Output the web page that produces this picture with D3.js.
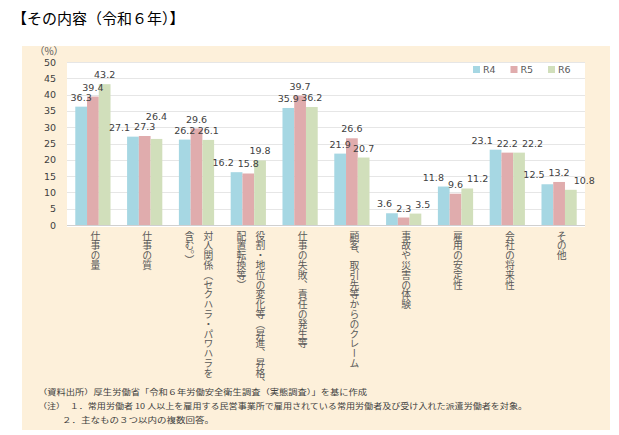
<!DOCTYPE html>
<html>
<head>
<meta charset="utf-8">
<script src="https://cdn.jsdelivr.net/npm/d3@7/dist/d3.min.js"></script>
<style>
  body { margin: 0; background: #fff; }
  #wrap { position: relative; width: 619px; height: 435px; }
  svg { display: block; position: absolute; left: 0; top: 0; }
  .cat {
    position: absolute;
    writing-mode: vertical-rl;
    font-family: 'Noto Sans CJK JP', sans-serif;
    font-size: 9.8px;
    line-height: 19px;
    color: #595959;
    white-space: nowrap;
    transform: translateX(-50%);
  }
</style>
</head>
<body>
<div id="wrap">
<svg id="chart" width="619" height="435"></svg>
</div>
<script>

const title = "【その内容（令和６年）】"

const categories = [
	["仕事の量"],
	["仕事の質"],
	["対人関係（セクハラ・パワハラを", "含む。）"],
	["役割・地位の変化等（昇進、昇格、", "配置転換等）"],
	["仕事の失敗、責任の発生等"],
	["顧客、取引先等からのクレーム"],
	["事故や災害の体験"],
	["雇用の安定性"],
	["会社の将来性"],
	["その他"]
]

const seriesNames = ["R4", "R5", "R6"]
const r4 = [36.3, 27.1, 26.2, 16.2, 35.9, 21.9, 3.6, 11.8, 23.1, 12.5]
const r5 = [39.4, 27.3, 29.6, 15.8, 39.7, 26.6, 2.3, 9.6, 22.2, 13.2]
const r6 = [43.2, 26.4, 26.1, 19.8, 36.2, 20.7, 3.5, 11.2, 22.2, 10.8]

const yTicks = [0, 5, 10, 15, 20, 25, 30, 35, 40, 45, 50]
const yUnit = "（%）"

const notes = [
	"（資料出所）厚生労働省「令和６年労働安全衛生調査（実態調査）」を基に作成",
	"（注）　１．常用労働者 10 人以上を雇用する民営事業所で雇用されている常用労働者及び受け入れた派遣労働者を対象。",
	"２．主なもの３つ以内の複数回答。"
]

const colors = ["#a6d7e3", "#e0acad", "#d1dfbb"]
const numFont = "'DejaVu Sans', sans-serif"
const jpFont = "'Noto Sans CJK JP', sans-serif"

const svg = d3.select("#chart")
const wrap = d3.select("#wrap")

svg.append("text")
	.attr("x", 12).attr("y", 24)
	.attr("font-family", jpFont)
	.attr("font-size", 15)
	.attr("fill", "#000")
	.text(title)

// beige panel and white plot area
svg.append("rect")
	.attr("x", 22).attr("y", 46)
	.attr("width", 588).attr("height", 384)
	.attr("fill", "#fdf0da")

const plot = {left: 67, right: 585, top: 62, bottom: 225}

svg.append("rect")
	.attr("x", plot.left).attr("y", plot.top)
	.attr("width", plot.right - plot.left).attr("height", plot.bottom - plot.top + 2)
	.attr("fill", "#fff")

const series = [r4, r5, r6]
const idx = categories.map((c, i) => i)

const x = d3.scaleBand()
	.domain(idx)
	.range([plot.left, plot.right])
	.paddingInner(0.32)
	.paddingOuter(0.16)

const xSub = d3.scaleBand()
	.domain(seriesNames)
	.range([0, x.bandwidth()])

const y = d3.scaleLinear()
	.domain([0, 50])
	.range([plot.bottom, plot.top])

svg.append("g")
	.selectAll("line")
	.data(yTicks)
	.enter().append("line")
		.attr("x1", plot.left).attr("x2", plot.right)
		.attr("y1", (d) => Math.round(y(d)) + 0.5)
		.attr("y2", (d) => Math.round(y(d)) + 0.5)
		.attr("stroke", (d) => d === 0 ? "#d0d0d0" : "#e6e6e6")
		.attr("stroke-width", 1)

const yAxis = svg.append("g")
	.attr("transform", "translate(" + (plot.left - 6) + ",0)")
	.call(d3.axisLeft(y).tickValues(yTicks).tickSize(0).tickPadding(5))
yAxis.select(".domain").remove()
yAxis.selectAll("text")
	.attr("font-family", numFont)
	.attr("font-size", 9.5)
	.attr("fill", "#404040")

svg.append("text")
	.attr("x", 49).attr("y", 55)
	.attr("text-anchor", "middle")
	.attr("font-family", jpFont)
	.attr("font-size", 10)
	.attr("fill", "#595959")
	.text(yUnit)

// bars
const groups = svg.append("g")
	.selectAll("g")
	.data(idx)
	.enter().append("g")
		.attr("transform", (i) => "translate(" + x(i) + ",0)")

groups.selectAll("rect")
	.data((i) => series.map((s, k) => ({name: seriesNames[k], value: s[i], k: k})))
	.enter().append("rect")
		.attr("x", (d) => xSub(d.name))
		.attr("y", (d) => y(d.value))
		.attr("width", xSub.bandwidth())
		.attr("height", (d) => y(0) - y(d.value))
		.attr("fill", (d) => colors[d.k])

// value labels: start above each bar, then nudge the side ones away from the middle one
const labelLayer = svg.append("g")
const labels = []
idx.forEach((i) => {
	series.forEach((s, k) => {
		const t = labelLayer.append("text")
			.attr("text-anchor", "middle")
			.attr("font-family", numFont)
			.attr("font-size", 9.5)
			.attr("fill", "#404040")
			.text(s[i].toFixed(1))
		labels.push({
			node: t, g: i, k: k,
			cx: x(i) + xSub(seriesNames[k]) + xSub.bandwidth() / 2,
			y: y(s[i]) - 6,
			w: t.node().getComputedTextLength() + 1
		})
	})
})

const lineH = 9.5
const gap = 3
function collides(a, b) {
	return Math.abs(a.y - b.y) < lineH && Math.abs(a.cx - b.cx) < (a.w + b.w) / 2 + 0.5
}
function clear(l) {
	return labels.every((o) => o === l || !collides(l, o))
}

labels.filter((l) => l.k !== 1).forEach((l) => {
	if (clear(l)) return
	const mid = labels.find((o) => o.g === l.g && o.k === 1)
	const dir = l.k === 0 ? -1 : 1
	const start = {cx: l.cx, y: l.y}
	const tries = [
		{cx: mid.cx + dir * (mid.w / 2 + l.w / 2 + gap), y: start.y},
		{cx: start.cx, y: mid.y - lineH - 0.5},
		{cx: start.cx, y: mid.y + lineH + 0.5}
	]
	for (const c of tries) {
		l.cx = c.cx
		l.y = c.y
		if (clear(l)) return
	}
	l.cx = start.cx
	l.y = start.y
})

labels.forEach((l) => l.node.attr("x", l.cx).attr("y", l.y))

// legend
const legend = svg.append("g")
	.selectAll("g")
	.data(seriesNames)
	.enter().append("g")
		.attr("transform", (d, k) => "translate(" + (473 + k * 37.5) + ",66)")
legend.append("rect")
	.attr("width", 7).attr("height", 7)
	.attr("fill", (d, k) => colors[k])
legend.append("text")
	.attr("x", 10).attr("y", 7)
	.attr("font-family", numFont)
	.attr("font-size", 9.5)
	.attr("fill", "#595959")
	.text((d) => d)

// vertical category labels (html, so the browser does the tategaki layout)
wrap.selectAll("div.cat")
	.data(idx)
	.enter().append("div")
		.attr("class", "cat")
		.style("left", (i) => (x(i) + x.bandwidth() / 2 + 2) + "px")
		.style("top", "231px")
	.selectAll("div")
	.data((i) => categories[i])
	.enter().append("div")
		.text((d) => d)

// footnotes
const noteWidths = [329, 489, 152]
const noteX = [38, 38, 62]
const noteY = [395, 409, 423]
svg.append("g")
	.selectAll("text")
	.data(notes)
	.enter().append("text")
		.attr("x", (d, i) => noteX[i])
		.attr("y", (d, i) => noteY[i])
		.attr("font-family", jpFont)
		.attr("font-size", 7.5)
		.attr("fill", "#404040")
		.attr("textLength", (d, i) => noteWidths[i])
		.attr("lengthAdjust", "spacingAndGlyphs")
		.text((d) => d)

</script>
</body>
</html>
